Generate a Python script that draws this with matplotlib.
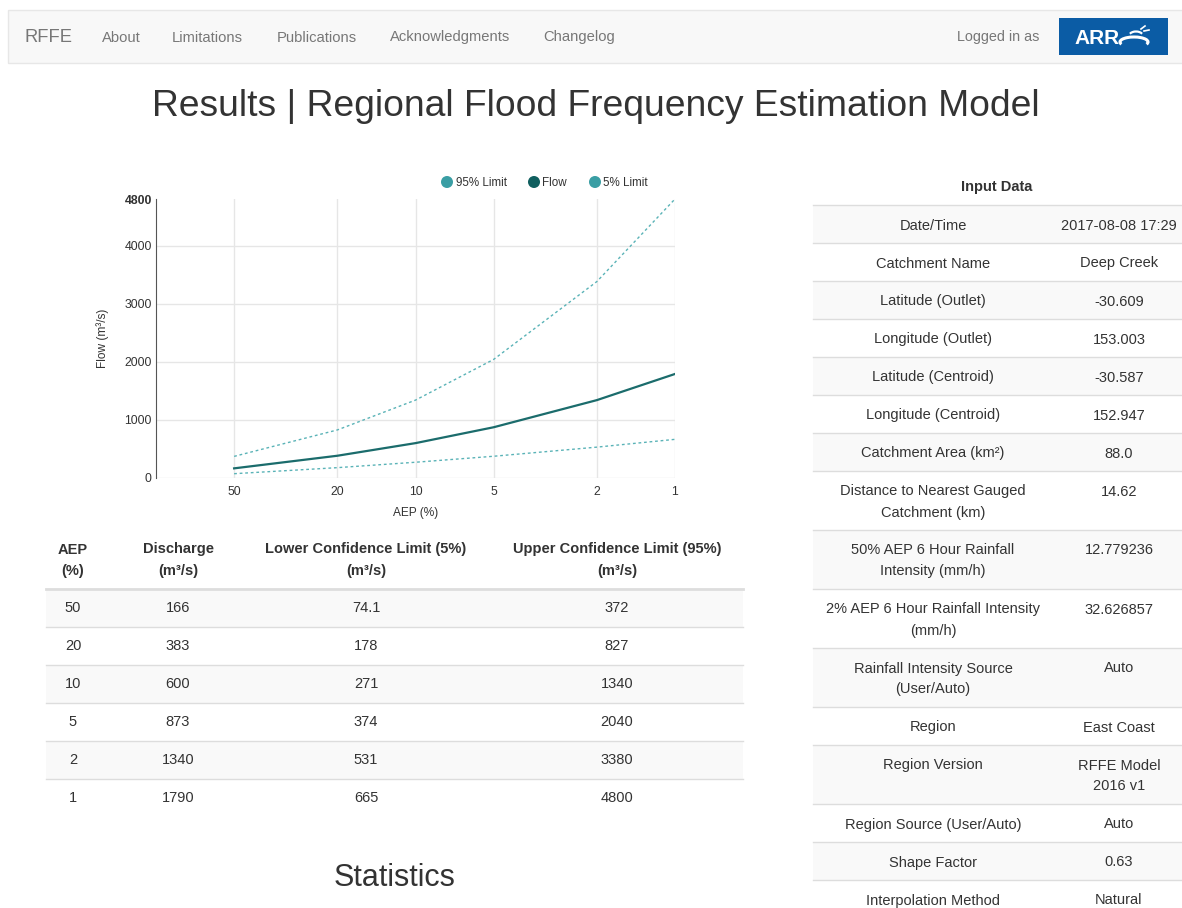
import matplotlib
matplotlib.use('Agg')
import matplotlib.pyplot as plt
from matplotlib.patches import Rectangle, Circle, Arc

# flood frequency results
aep = [50, 20, 10, 5, 2, 1]
discharge = [166, 383, 600, 873, 1340, 1790]
lower_5 = [74.1, 178, 271, 374, 531, 665]
upper_95 = [372, 827, 1340, 2040, 3380, 4800]

y_ticks = [0, 1000, 2000, 3000, 4000, 4800]

nav_items = ['About', 'Limitations', 'Publications', 'Acknowledgments', 'Changelog']

results_headers = [['AEP', '(%)'], ['Discharge', '(m³/s)'],
                   ['Lower Confidence Limit (5%)', '(m³/s)'],
                   ['Upper Confidence Limit (95%)', '(m³/s)']]

input_labels = ['Date/Time', 'Catchment Name', 'Latitude (Outlet)', 'Longitude (Outlet)',
                'Latitude (Centroid)', 'Longitude (Centroid)', 'Catchment Area (km²)',
                'Distance to Nearest Gauged\nCatchment (km)',
                '50% AEP 6 Hour Rainfall\nIntensity (mm/h)',
                '2% AEP 6 Hour Rainfall Intensity\n(mm/h)',
                'Rainfall Intensity Source\n(User/Auto)', 'Region', 'Region Version',
                'Region Source (User/Auto)', 'Shape Factor', 'Interpolation Method']
input_values = ['2017-08-08 17:29', 'Deep Creek', '-30.609', '153.003', '-30.587',
                '152.947', '88.0', '14.62', '12.779236', '32.626857', 'Auto',
                'East Coast', 'RFFE Model\n2016 v1', 'Auto', '0.63', 'Natural']

plt.rcParams['font.family'] = ['Liberation Sans', 'DejaVu Sans']

W, H = 1182, 908
fig = plt.figure(figsize=(W / 100, H / 100), dpi=100)
fig.patch.set_facecolor('white')

# full page axes in pixel coordinates
page = fig.add_axes([0, 0, 1, 1])
page.set_xlim(0, W)
page.set_ylim(H, 0)
page.axis('off')

TEXT = '#333333'
NAV = '#777777'
STRIPE = '#f9f9f9'
BORDER = '#dddddd'
DY = 1.5  # matplotlib centres text a bit higher than the browser did


def txt(x, y, s, size=10.5, color=TEXT, ha='center', weight='normal'):
    page.text(x, y + DY, s, fontsize=size, color=color, ha=ha, va='center',
              fontweight=weight)


# navbar
page.add_patch(Rectangle((8, 10), 1190, 53, facecolor='#f8f8f8', edgecolor='#e7e7e7', lw=1))
txt(24, 36, 'RFFE', size=13.2, color=NAV, ha='left')
for name, x in zip(nav_items, [102, 172, 277, 390, 543]):
    txt(x, 36, name, size=10.6, color=NAV, ha='left')
txt(957, 36, 'Logged in as', size=10.4, color=NAV, ha='left')
page.add_patch(Rectangle((1059, 18), 109, 37, facecolor='#0b5ca5', edgecolor='none'))
page.text(1097, 38, 'ARR', fontsize=15, color='white', ha='center', va='center',
          fontweight='bold')
page.add_patch(Arc((1134, 42), 28, 10, theta1=170, theta2=370, color='white', lw=2.2))
page.add_patch(Arc((1136, 36), 14, 9, theta1=200, theta2=340, color='white', lw=1.6))
page.plot([1141, 1145], [29, 26], color='white', lw=1.2)
page.plot([1144, 1149], [31, 30], color='white', lw=1.2)

# page title
txt(596, 105, 'Results | Regional Flood Frequency Estimation Model', size=26.8)

# chart
ax = fig.add_axes([156 / W, 1 - 478 / H, (675 - 156) / W, (478 - 199) / H])
ax.set_xscale('log')
teal_light = '#5ab3b7'
teal_dark = '#1b6c6c'
ax.plot(aep, upper_95, color=teal_light, lw=1.0, dashes=(2, 2))
ax.plot(aep, discharge, color=teal_dark, lw=1.6)
ax.plot(aep, lower_5, color=teal_light, lw=1.0, dashes=(2, 2))
ax.set_xlim(100, 1)
ax.set_ylim(0, 4800)
ax.set_xticks(aep)
ax.set_xticklabels([str(a) for a in aep])
ax.minorticks_off()
ax.set_yticks(y_ticks)
ax.set_yticklabels([str(t) for t in y_ticks])
ax.grid(True, color='#e6e6e6', lw=1)
ax.get_ygridlines()[-1].set_visible(False)
ax.set_axisbelow(True)
for s in ['top', 'right', 'bottom']:
    ax.spines[s].set_visible(False)
ax.spines['left'].set_color('#555555')
ax.tick_params(length=0, labelsize=8.8, colors='#333333', pad=3)
ax.get_yticklabels()[-1].set_fontweight('bold')
ax.tick_params(axis='x', pad=6)
ax.set_xlabel('AEP (%)', fontsize=8.6, color=TEXT, labelpad=6)
ax.set_ylabel('Flow (m³/s)', fontsize=8.6, color=TEXT, labelpad=11)

# chart legend
for cx, tx, col, lab in [(447, 456, '#3a9ea4', '95% Limit'), (534, 542, '#105f5f', 'Flow'),
                         (595, 603, '#3a9ea4', '5% Limit')]:
    page.add_patch(Circle((cx, 182), 6, facecolor=col, edgecolor='none'))
    txt(tx, 182, lab, size=8.4, ha='left')

# results table
col_x = [73, 178, 366, 617]
for cx, hdr in zip(col_x, results_headers):
    txt(cx, 548, hdr[0], weight='bold')
    txt(cx, 569, hdr[1], weight='bold')
row_top = 589
for i, a in enumerate(aep):
    top = row_top + 38 * i
    if i % 2 == 0:
        page.add_patch(Rectangle((46, top), 697, 38, facecolor=STRIPE, edgecolor='none'))
    page.plot([46, 743], [top, top], color=BORDER, lw=2 if i == 0 else 1)
    vals = [a, discharge[i], lower_5[i], upper_95[i]]
    for cx, v in zip(col_x, vals):
        txt(cx, top + 18, f'{v:g}')

txt(395, 876, 'Statistics', size=22)

# input data table
txt(997, 186, 'Input Data', weight='bold')
top = 205
for i, (lab, val) in enumerate(zip(input_labels, input_values)):
    n = max(lab.count('\n'), val.count('\n')) + 1
    h = 17 + 21 * n
    if i % 2 == 0:
        page.add_patch(Rectangle((813, top), 380, h, facecolor=STRIPE, edgecolor='none'))
    page.plot([813, 1190], [top, top], color=BORDER, lw=1)
    for j, line in enumerate(lab.split('\n')):
        txt(933, top + 19 + 21 * j, line)
    for j, line in enumerate(val.split('\n')):
        txt(1119, top + 19 + 21 * j, line)
    top += h

fig.savefig('out.png', dpi=100)
